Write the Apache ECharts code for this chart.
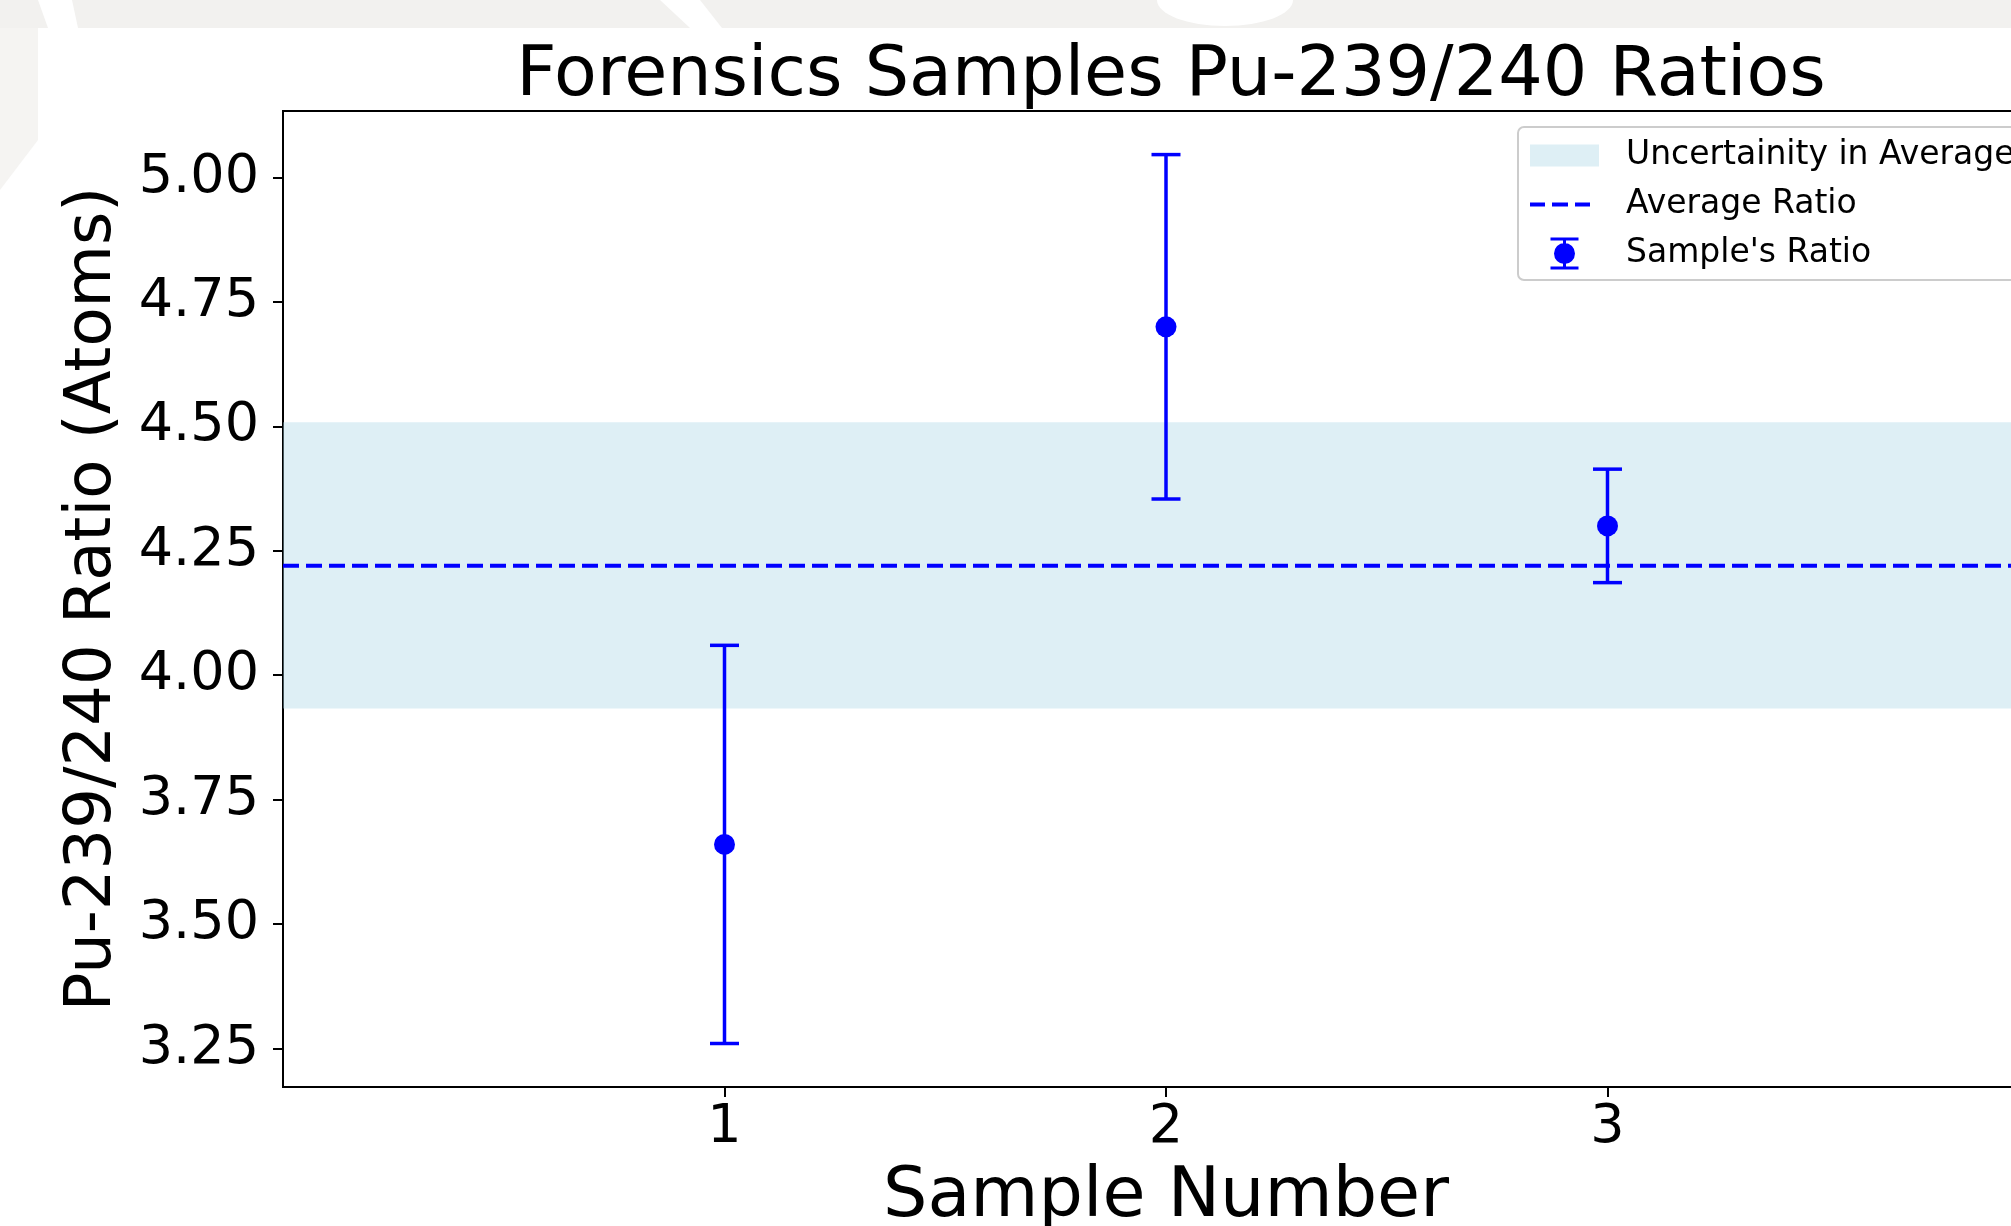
<!DOCTYPE html>
<html>
<head>
<meta charset="utf-8">
<script src="https://cdn.jsdelivr.net/npm/echarts@6/dist/echarts.min.js"></script>
<style>
  html, body { margin: 0; padding: 0; background: #fff; }
  #main { width: 2011px; height: 1226px; }
</style>
</head>
<body>
<div id="main"></div>
<script>
// sample data
var samples = [1, 2, 3];
var ratios = [3.66, 4.70, 4.30];
var ratioErr = [0.40, 0.346, 0.114];
var avgRatio = 4.22;
var avgBand = [3.933, 4.508];   // uncertainty in average (low, high)
var yTicks = [3.25, 3.5, 3.75, 4.0, 4.25, 4.5, 4.75, 5.0];
var xTicks = [1, 2, 3];

var FONT = 'DejaVu Sans';
var BLUE = '#0000ff';
var BAND = 'rgba(173,216,230,0.4)';

var myChart = echarts.init(document.getElementById('main'));

var errData = samples.map(function (s, i) { return [s, ratios[i], ratioErr[i]]; });

var option = {
  backgroundColor: '#fff',
  animation: false,
  title: {
    text: 'Forensics Samples Pu-239/240 Ratios',
    left: 1166,
    textAlign: 'center',
    top: 37,
    textStyle: { fontFamily: FONT, fontSize: 70, fontWeight: 'normal', color: '#000' }
  },
  // screenshot backdrop: grey strip at the top left of the capture
  graphic: [
    { type: 'rect', z: -10, shape: { x: 0, y: 0, width: 2011, height: 28 }, style: { fill: '#f2f1ef' } },
    { type: 'polygon', z: -10, shape: { points: [[0, 28], [38, 28], [38, 140], [0, 190]] }, style: { fill: '#f5f4f2' } },
    { type: 'polygon', z: -9, shape: { points: [[38, 0], [72, 0], [78, 28], [48, 28]] }, style: { fill: '#fff' } },
    { type: 'polygon', z: -9, shape: { points: [[660, 0], [700, 0], [722, 28], [690, 28]] }, style: { fill: '#fff' } },
    { type: 'ellipse', z: -9, shape: { cx: 1225, cy: 0, rx: 68, ry: 26 }, style: { fill: '#fff' } }
  ],
  legend: {
    orient: 'vertical',
    left: 1518,
    top: 127,
    padding: [12, 12, 10, 12],
    itemWidth: 69,
    itemHeight: 32,
    itemGap: 16,
    backgroundColor: 'rgba(255,255,255,0.8)',
    borderColor: '#cccccc',
    borderWidth: 2,
    borderRadius: 6,
    selectedMode: false,
    textStyle: { fontFamily: FONT, fontSize: 33, color: '#000', padding: [0, 0, 0, 22] },
    data: [
      { name: 'Uncertainity in Average', icon: 'path://M0,0L0,0M0,5H69V27H0ZM69,32L69,32', itemStyle: { color: BAND } },
      { name: 'Average Ratio', icon: 'path://M0,0L0,0M0,14H15V18H0ZM22,14H38V18H22ZM45,14H60V18H45ZM69,32L69,32', itemStyle: { color: BLUE } },
      { name: "Sample's Ratio",
        icon: 'path://M0,0H28V3H0Z M0,29H28V32H0Z M12.5,0H15.5V32H12.5Z M3.5,16A10.5,10.5 0 1,1 24.5,16A10.5,10.5 0 1,1 3.5,16Z',
        itemStyle: { color: BLUE } }
    ]
  },
  grid: {
    left: 283, top: 111, width: 1766, height: 976,
    outerBoundsMode: 'none',
    containLabel: false,
    show: true, borderColor: '#000', borderWidth: 2, backgroundColor: 'transparent'
  },
  xAxis: {
    type: 'value',
    min: 0, max: 4,
    name: 'Sample Number',
    nameLocation: 'middle',
    nameGap: 76,
    nameTextStyle: { fontFamily: FONT, fontSize: 70, color: '#000' },
    axisLine: { lineStyle: { color: '#000', width: 2 } },
    axisTick: { show: true, length: 10, lineStyle: { color: '#000', width: 2 }, customValues: xTicks },
    axisLabel: { fontFamily: FONT, fontSize: 54, color: '#000', margin: 14, customValues: xTicks },
    splitLine: { show: false }
  },
  yAxis: {
    type: 'value',
    min: 3.1726, max: 5.1336,
    name: 'Pu-239/240 Ratio (Atoms)',
    nameLocation: 'middle',
    nameGap: 158,
    nameRotate: 90,
    nameTextStyle: { fontFamily: FONT, fontSize: 64, color: '#000' },
    axisLine: { show: true, lineStyle: { color: '#000', width: 2 } },
    axisTick: { show: true, length: 10, lineStyle: { color: '#000', width: 2 }, customValues: yTicks },
    axisLabel: {
      fontFamily: FONT, fontSize: 54, color: '#000', margin: 24, customValues: yTicks,
      padding: [8, 0, 0, 0],
      formatter: function (v) { return v.toFixed(2); }
    },
    splitLine: { show: false }
  },
  series: [
    {
      name: 'Uncertainity in Average',
      type: 'custom',
      z: 1,
      silent: true,
      data: [avgBand],
      encode: { y: [0, 1] },
      itemStyle: { color: BAND },
      renderItem: function (params, api) {
        var cs = params.coordSys;
        var top = api.coord([0, api.value(1)])[1];
        var bottom = api.coord([0, api.value(0)])[1];
        return {
          type: 'rect',
          shape: { x: cs.x, y: top, width: cs.width, height: bottom - top },
          style: { fill: BAND }
        };
      }
    },
    {
      name: 'Average Ratio',
      type: 'custom',
      z: 2,
      silent: true,
      data: [[avgRatio]],
      encode: { y: 0 },
      itemStyle: { color: BLUE },
      renderItem: function (params, api) {
        var cs = params.coordSys;
        var y = api.coord([0, api.value(0)])[1];
        return {
          type: 'line',
          shape: { x1: cs.x, y1: y, x2: cs.x + cs.width, y2: y },
          style: { stroke: BLUE, lineWidth: 4, lineDash: [16, 7] }
        };
      }
    },
    {
      name: "Sample's Ratio",
      type: 'custom',
      z: 3,
      data: errData,
      encode: { x: 0, y: 1 },
      itemStyle: { color: BLUE },
      renderItem: function (params, api) {
        var x = api.value(0), y = api.value(1), e = api.value(2);
        var c = api.coord([x, y]);
        var hi = api.coord([x, y + e]);
        var lo = api.coord([x, y - e]);
        var cap = 14.5;
        var st = { stroke: BLUE, lineWidth: 3.5 };
        return {
          type: 'group',
          children: [
            { type: 'line', shape: { x1: hi[0], y1: hi[1], x2: lo[0], y2: lo[1] }, style: st },
            { type: 'line', shape: { x1: hi[0] - cap, y1: hi[1], x2: hi[0] + cap, y2: hi[1] }, style: st },
            { type: 'line', shape: { x1: lo[0] - cap, y1: lo[1], x2: lo[0] + cap, y2: lo[1] }, style: st },
            { type: 'circle', shape: { cx: c[0], cy: c[1], r: 10.5 }, style: { fill: BLUE } }
          ]
        };
      }
    }
  ]
};

myChart.setOption(option);
</script>
</body>
</html>
